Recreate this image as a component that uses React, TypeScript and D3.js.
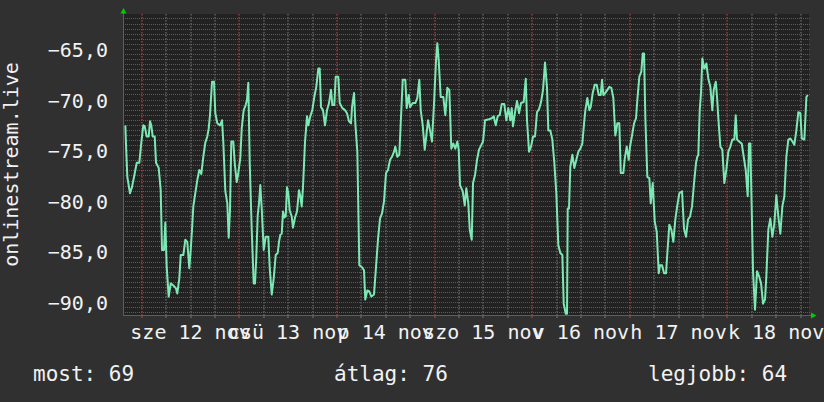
import React from 'react';
import * as d3 from 'd3';

const W = 824;
const H = 402;

// time offsets (hours since 12 Nov 2025 00:00) and signal values
const hours = [
  -4.03, -3.86, -3.54, -2.88, -2.39, -1.89, -1.23, -0.59, -0.1, 0.39, 0.74, 1.23, 1.72, 2.04, 2.36, 2.7, 3.2, 3.52, 4.18, 4.67,
  4.99, 5.48, 5.8, 6.15, 6.64, 7.13, 7.77, 8.43, 8.75, 9.25, 9.59, 10.23, 10.72, 11.21, 11.7, 12.05, 12.37, 12.69, 13.18, 13.67,
  14.16, 14.66, 15.15, 15.64, 16.13, 16.48, 16.79, 17.29, 17.78, 18.1, 18.59, 19.25, 19.75, 20.07, 20.56, 21.05, 21.39, 21.71, 22.03, 22.52,
  22.87, 23.36, 23.75, 24.25, 24.59, 25.08, 25.57, 25.89, 26.21, 26.56, 27.05, 27.54, 27.86, 28.18, 28.52, 28.84, 29.16, 29.51, 30.0, 30.49,
  31.13, 31.48, 31.97, 32.46, 32.95, 33.44, 33.76, 34.08, 34.43, 34.75, 35.07, 35.41, 35.73, 36.05, 36.39, 36.89, 37.2, 37.7, 38.19, 38.68,
  39.0, 39.34, 39.66, 40.16, 40.65, 40.97, 41.46, 41.95, 42.44, 42.93, 43.43, 43.77, 44.09, 44.58, 45.07, 45.57, 46.06, 46.55, 46.87, 47.36,
  47.7, 48.34, 48.69, 49.33, 49.99, 50.48, 50.97, 51.47, 51.71, 52.21, 52.53, 53.02, 53.51, 54.17, 54.66, 54.98, 55.47, 55.97, 56.46, 57.12,
  57.61, 58.11, 58.6, 59.09, 59.58, 60.07, 60.57, 61.06, 61.55, 62.04, 62.36, 62.85, 63.34, 63.69, 64.18, 64.82, 65.16, 65.66, 65.98, 66.64,
  67.28, 67.77, 68.26, 68.61, 69.1, 69.59, 69.91, 70.4, 70.89, 71.38, 71.88, 72.37, 72.69, 73.03, 73.52, 74.16, 74.66, 75.15, 75.64, 76.13,
  76.62, 77.11, 77.61, 77.95, 78.27, 78.93, 79.43, 79.82, 80.31, 80.66, 81.15, 81.47, 81.96, 82.45, 82.94, 83.43, 83.93, 84.42, 85.4, 86.07,
  86.56, 87.05, 87.54, 88.03, 88.52, 89.16, 89.66, 90.15, 90.64, 90.98, 91.3, 91.8, 92.29, 92.78, 93.27, 93.93, 94.43, 94.74, 95.24, 95.73,
  96.22, 96.71, 97.2, 97.7, 98.19, 98.68, 99.17, 99.66, 99.98, 100.47, 100.97, 101.46, 101.95, 102.44, 102.93, 103.43, 103.77, 104.26, 104.58, 104.75,
  105.07, 105.39, 105.89, 106.38, 106.87, 107.36, 107.85, 108.34, 108.77, 109.09, 109.58, 110.07, 110.41, 110.9, 111.39, 111.88, 112.38, 112.87, 113.19, 113.51,
  114.0, 114.49, 114.98, 115.48, 115.97, 116.46, 116.95, 117.44, 117.79, 118.43, 118.77, 119.26, 119.75, 120.07, 120.57, 121.06, 121.55, 121.87, 122.36, 122.85,
  123.2, 123.52, 123.84, 124.33, 124.82, 125.16, 125.65, 126.15, 126.64, 127.13, 127.45, 127.95, 128.44, 128.93, 129.25, 129.74, 130.23, 130.72, 131.21, 131.7,
  132.2, 132.86, 133.35, 133.84, 134.33, 134.83, 135.32, 135.81, 136.3, 136.62, 136.87, 137.21, 137.53, 137.85, 138.34, 138.84, 139.33, 139.82, 140.31, 140.65,
  141.15, 141.47, 141.79, 142.28, 142.77, 143.26, 143.75, 144.25, 144.74, 145.23, 145.72, 146.06, 146.38, 146.88, 147.54, 148.03, 148.52, 149.01, 149.33, 149.65,
  150.0, 150.32, 150.81, 151.3, 151.8, 152.29, 152.78, 153.27, 153.59, 154.08, 154.57, 155.07, 155.56, 156.05, 156.54, 157.03, 157.53, 158.02, 158.51, 159.0,
  159.5, 159.99, 160.48, 160.97, 161.46, 161.95, 162.31, 162.94, 163.44, 163.78,
];

const values = [
  -72.5, -74.4, -77.6, -79.2, -78.6, -77.6, -76.2, -76.2, -74.2, -72.5, -72.6, -73.6, -73.6, -72.1, -72.5, -73.6, -73.6, -76.2, -76.7, -78.9,
  -84.8, -84.8, -82.1, -86.5, -89.4, -88.1, -88.3, -88.6, -89.1, -87.6, -85.3, -85.3, -83.8, -84.0, -86.6, -84.8, -82.8, -80.5, -79.2, -77.9,
  -76.9, -77.3, -75.6, -74.2, -73.6, -72.8, -71.5, -68.2, -68.2, -71.3, -72.3, -72.5, -72.0, -74.2, -79.0, -80.2, -83.6, -80.9, -74.1, -74.1,
  -76.2, -78.1, -77.2, -75.7, -72.8, -71.0, -70.5, -70.0, -68.3, -76.2, -82.8, -88.1, -88.1, -85.5, -81.4, -80.2, -78.4, -80.7, -84.8, -83.5,
  -83.5, -86.6, -89.2, -87.6, -85.3, -85.1, -84.0, -83.3, -83.2, -81.0, -81.6, -81.5, -78.6, -79.2, -80.9, -81.5, -82.6, -81.6, -81.0, -78.9,
  -79.5, -80.5, -78.6, -74.1, -71.6, -72.5, -71.6, -71.0, -69.7, -68.7, -66.9, -66.9, -70.7, -71.0, -72.5, -71.0, -70.3, -69.0, -70.5, -70.5,
  -67.7, -67.7, -70.3, -70.8, -71.0, -71.3, -72.1, -72.3, -70.7, -69.3, -72.3, -75.1, -86.3, -86.5, -86.8, -89.7, -88.8, -88.9, -89.4, -89.2,
  -86.5, -83.7, -81.7, -81.2, -80.0, -77.2, -76.9, -75.9, -75.6, -75.1, -74.6, -75.6, -75.4, -72.3, -68.0, -68.0, -70.8, -69.5, -70.7, -70.3,
  -70.3, -69.8, -68.0, -71.0, -72.5, -74.9, -73.8, -72.0, -73.0, -74.1, -70.3, -66.1, -64.4, -66.1, -69.7, -69.7, -71.5, -68.8, -69.0, -74.8,
  -74.3, -74.8, -74.1, -74.9, -78.4, -79.0, -80.4, -78.7, -80.2, -82.8, -83.8, -78.2, -77.4, -75.9, -74.9, -74.5, -74.1, -72.0, -71.9, -71.8,
  -71.6, -72.5, -71.6, -71.5, -70.4, -70.4, -72.0, -70.8, -72.0, -70.8, -72.6, -71.2, -70.1, -71.3, -70.3, -70.2, -67.9, -72.0, -75.1, -74.6,
  -73.6, -73.6, -71.2, -70.9, -70.2, -69.0, -66.3, -68.8, -73.0, -73.0, -73.9, -76.2, -79.2, -84.3, -85.1, -85.3, -90.1, -91.1, -91.1, -80.7,
  -80.7, -76.6, -75.4, -76.7, -75.9, -75.1, -74.8, -74.3, -72.3, -71.0, -69.8, -71.0, -70.7, -69.3, -68.5, -68.5, -69.5, -69.5, -68.0, -69.5,
  -69.3, -69.0, -68.7, -68.8, -69.8, -73.5, -72.3, -72.3, -77.2, -77.2, -75.8, -74.6, -75.9, -74.6, -73.5, -72.3, -71.8, -70.0, -67.7, -67.2,
  -65.4, -65.4, -71.8, -77.6, -77.7, -80.2, -78.2, -82.0, -83.0, -87.1, -86.3, -86.3, -87.1, -87.1, -85.1, -82.3, -82.8, -84.0, -81.8, -80.4,
  -79.2, -79.0, -82.7, -83.5, -81.8, -81.5, -80.5, -78.2, -76.2, -75.6, -75.4, -71.0, -69.3, -65.9, -66.9, -66.4, -67.9, -68.7, -71.0, -69.0,
  -68.2, -69.7, -71.8, -74.6, -74.9, -78.2, -76.9, -75.1, -74.6, -73.9, -73.9, -71.5, -73.9, -74.1, -74.3, -75.6, -76.9, -79.5, -74.3, -74.3,
  -80.9, -86.9, -90.7, -86.9, -87.4, -88.1, -90.1, -89.7, -87.4, -82.8, -81.7, -83.5, -82.2, -79.4, -81.5, -83.2, -80.5, -79.5, -75.6, -73.9,
  -73.8, -74.1, -74.4, -73.0, -71.2, -71.3, -73.8, -73.9, -69.7, -69.5,
];

const yTickValues = [-65, -70, -75, -80, -85, -90];
const dayLabels = ['sze 12 nov', 'csü 13 nov', 'p 14 nov', 'szo 15 nov', 'v 16 nov', 'h 17 nov', 'k 18 nov'];
const legendTexts = ['most: 69', 'átlag: 76', 'legjobb: 64'];
const yTitle = 'onlinestream.live';

const BASE = Date.UTC(2025, 10, 12);
const HOUR = 3600 * 1000;
const toDate = (h: number) => new Date(BASE + h * HOUR);

const PLOT = { left: 123, right: 809, top: 14, bottom: 315 };
const COLORS = {
  bg: '#303030',
  canvas: '#222222',
  minor: '#5c5c5c',
  minorV: '#6e6e6e',
  major: '#8c3a3a',
  majorV: '#a84646',
  axis: '#5e5e5e',
  arrow: '#00cc00',
  text: '#f2f2f2',
  line: '#7de8b4',
};
const FONT = "'DejaVu Sans Mono', monospace";

export default function App() {
  const x = d3
    .scaleUtc()
    .domain([toDate(-4.6), toDate(164.08)])
    .range([PLOT.left, PLOT.right]);
  const y = d3.scaleLinear().domain([-91.22, -61.51]).range([PLOT.bottom, PLOT.top]);

  const [d0, d1] = x.domain();
  const sixHours = d3.utcHour.every(6)!.range(d0, d1);
  const minorTimes = sixHours.filter((t) => t.getUTCHours() !== 0);
  const dayTimes = d3.utcDay.range(d0, d1);
  const gridY = d3
    .range(-182, -122)
    .map((k) => k / 2)
    .filter((v) => y(v) >= PLOT.top && y(v) <= PLOT.bottom);
  const minorY = gridY.filter((v) => v % 5 !== 0);
  const majorY = gridY.filter((v) => v % 5 === 0);

  const locale = d3.formatLocale({ decimal: ',', thousands: '.', grouping: [3], currency: ['', ' Ft'] });
  const fmt = locale.format('.1f');

  const points: [number, number][] = hours.map((h, i) => [h, values[i]]);
  const line = d3
    .line<[number, number]>()
    .x((d) => x(toDate(d[0])))
    .y((d) => y(d[1]));

  const px = (v: number) => Math.floor(v) + 0.5;

  const hLine = (v: number, color: string, key: string) => (
    <line
      key={key}
      x1={PLOT.left}
      x2={PLOT.right + 1}
      y1={px(y(v))}
      y2={px(y(v))}
      stroke={color}
      strokeWidth={1}
      strokeDasharray="1,1"
      shapeRendering="crispEdges"
    />
  );
  const vLine = (t: Date, color: string, key: string) => (
    <g key={key}>
      <line
        x1={Math.round(x(t))}
        x2={Math.round(x(t))}
        y1={PLOT.top}
        y2={PLOT.bottom}
        stroke={color}
        strokeWidth={1.2}
        strokeDasharray="1.5,1.5"
      />
      <line
        x1={Math.round(x(t))}
        x2={Math.round(x(t))}
        y1={PLOT.bottom}
        y2={PLOT.bottom + 3}
        stroke={color}
        strokeWidth={1.2}
      />
    </g>
  );

  return (
    <svg
      width={W}
      height={H}
      style={{ position: 'absolute', left: 0, top: 0, display: 'block' }}
      fontFamily={FONT}
    >
      <rect x={0} y={0} width={W} height={H} fill={COLORS.bg} />
      <rect
        x={PLOT.left}
        y={PLOT.top}
        width={PLOT.right - PLOT.left}
        height={PLOT.bottom - PLOT.top}
        fill={COLORS.canvas}
      />

      {minorY.map((v) => hLine(v, COLORS.minor, 'mh' + v))}
      {minorTimes.map((t) => vLine(t, COLORS.minorV, 'mv' + t.getTime()))}
      {majorY.map((v) => hLine(v, COLORS.major, 'Mh' + v))}
      {dayTimes.map((t) => vLine(t, COLORS.majorV, 'Mv' + t.getTime()))}

      {/* axes */}
      <line x1={PLOT.left + 0.5} x2={PLOT.left + 0.5} y1={PLOT.top - 2} y2={PLOT.bottom + 1} stroke={COLORS.axis} shapeRendering="crispEdges" />
      <line x1={PLOT.left} x2={PLOT.right + 3} y1={PLOT.bottom + 0.5} y2={PLOT.bottom + 0.5} stroke={COLORS.axis} shapeRendering="crispEdges" />
      <path
        d={`M${PLOT.left - 2.5},${PLOT.top - 0.5} L${PLOT.left + 3.5},${PLOT.top - 0.5} L${PLOT.left + 0.5},${PLOT.top - 6} Z`}
        fill={COLORS.arrow}
      />
      <path
        d={`M${PLOT.right + 2},${PLOT.bottom - 2.5} L${PLOT.right + 2},${PLOT.bottom + 3.5} L${PLOT.right + 7.5},${PLOT.bottom + 0.5} Z`}
        fill={COLORS.arrow}
      />

      {/* data line */}
      <path d={line(points) || ''} fill="none" stroke={COLORS.line} strokeWidth={2} strokeLinejoin="round" />

      {/* y tick labels */}
      {yTickValues.map((v) => (
        <text key={'yt' + v} x={108} y={y(v) + 7.5} textAnchor="end" fontSize={20} fill={COLORS.text}>
          {fmt(v)}
        </text>
      ))}

      {/* x day labels (overlapping, as in the reference) */}
      {dayTimes.map((t, i) => (
        <text
          key={'xl' + i}
          x={x(new Date(t.getTime() + 12 * HOUR))}
          y={339}
          textAnchor="middle"
          fontSize={20}
          fill={COLORS.text}
        >
          {dayLabels[i]}
        </text>
      ))}

      {/* y title */}
      <text
        transform={`translate(18, ${(PLOT.top + PLOT.bottom) / 2}) rotate(-90)`}
        textAnchor="middle"
        fontSize={20}
        fill={COLORS.text}
      >
        {yTitle}
      </text>

      {/* legend */}
      <text x={33} y={381} fontSize={21} fill={COLORS.text}>
        {legendTexts[0]}
      </text>
      <text x={334} y={381} fontSize={21} fill={COLORS.text}>
        {legendTexts[1]}
      </text>
      <text x={648} y={381} fontSize={21} fill={COLORS.text}>
        {legendTexts[2]}
      </text>
    </svg>
  );
}
